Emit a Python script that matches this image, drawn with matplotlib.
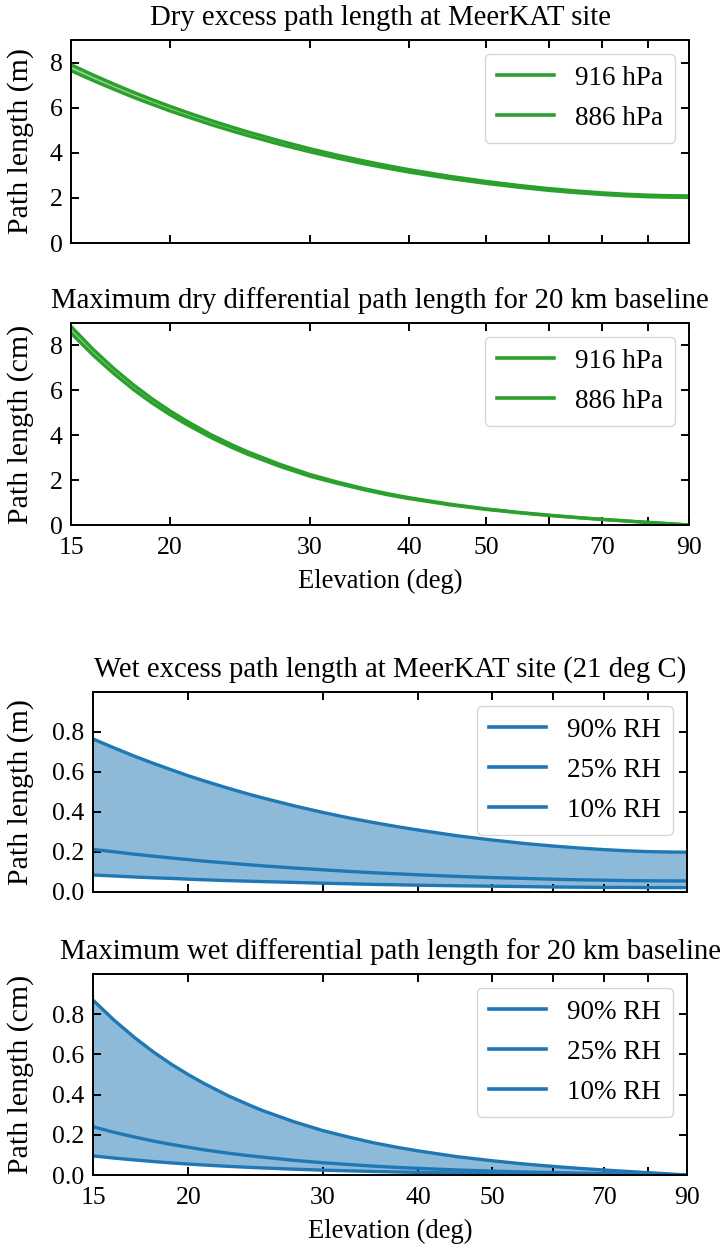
import numpy as np
import matplotlib
matplotlib.use("Agg")
import matplotlib.pyplot as plt

# %% Data

elev = [15, 16, 17, 18, 19, 20, 21, 22.5, 24, 25, 27.5, 30, 32.5, 35, 37.5,
        40, 45, 50, 55, 60, 65, 70, 75, 80, 85, 90]

dry_916 = [7.905, 7.446, 7.041, 6.676, 6.349, 6.056, 5.791, 5.434, 5.123, 4.935, 4.526, 4.18, 3.890,
           3.644, 3.433, 3.251, 2.956, 2.728, 2.551, 2.413, 2.306, 2.224, 2.164, 2.122, 2.098, 2.09]
dry_886 = [7.64, 7.20, 6.81, 6.45, 6.14, 5.85, 5.60, 5.25, 4.95, 4.77, 4.37, 4.04, 3.76,
           3.52, 3.32, 3.14, 2.86, 2.64, 2.47, 2.33, 2.23, 2.15, 2.09, 2.05, 2.03, 2.02]

ddry_916 = [8.85, 7.82, 6.96, 6.23, 5.61, 5.08, 4.62, 4.03, 3.55, 3.27, 2.70, 2.25, 1.91,
            1.63, 1.40, 1.216, 0.928, 0.718, 0.561, 0.438, 0.338, 0.254, 0.182, 0.117, 0.058, 0.0]
ddry_886 = [8.55, 7.56, 6.73, 6.02, 5.42, 4.91, 4.47, 3.90, 3.43, 3.16, 2.61, 2.17, 1.85,
            1.58, 1.35, 1.175, 0.897, 0.694, 0.542, 0.423, 0.327, 0.245, 0.176, 0.113, 0.056, 0.0]

wet_90 = [0.765, 0.720, 0.679, 0.643, 0.611, 0.581, 0.555, 0.520, 0.489, 0.471, 0.431, 0.398, 0.370,
          0.347, 0.327, 0.310, 0.281, 0.260, 0.243, 0.230, 0.220, 0.212, 0.206, 0.202, 0.200, 0.199]
wet_25 = [0.213, 0.201, 0.189, 0.179, 0.170, 0.162, 0.154, 0.145, 0.136, 0.131, 0.120, 0.111, 0.103,
          0.096, 0.091, 0.086, 0.078, 0.072, 0.068, 0.064, 0.061, 0.059, 0.057, 0.056, 0.0555, 0.0553]
wet_10 = [0.085, 0.080, 0.075, 0.071, 0.068, 0.064, 0.061, 0.057, 0.054, 0.052, 0.048, 0.044, 0.041,
          0.038, 0.036, 0.034, 0.031, 0.029, 0.027, 0.025, 0.024, 0.023, 0.023, 0.022, 0.022, 0.022]

dwet_90 = [0.870, 0.769, 0.684, 0.612, 0.551, 0.499, 0.454, 0.396, 0.349, 0.321, 0.265, 0.221, 0.188,
           0.160, 0.138, 0.120, 0.091, 0.071, 0.055, 0.043, 0.033, 0.025, 0.018, 0.0115, 0.0057, 0.0]
dwet_25 = [0.240, 0.212, 0.189, 0.169, 0.152, 0.138, 0.125, 0.109, 0.096, 0.089, 0.073, 0.061, 0.052,
           0.044, 0.038, 0.033, 0.025, 0.0195, 0.0152, 0.0119, 0.0092, 0.0069, 0.0049, 0.0032, 0.0016, 0.0]
dwet_10 = [0.095, 0.084, 0.075, 0.067, 0.060, 0.0545, 0.0496, 0.0432, 0.0381, 0.0351, 0.029, 0.0241, 0.0205,
           0.0175, 0.015, 0.013, 0.010, 0.0077, 0.006, 0.0047, 0.0036, 0.0027, 0.002, 0.0013, 0.0006, 0.0]

xticks = [15, 20, 30, 40, 50, 60, 70, 80, 90]
xticklabels = ['15', '20', '30', '40', '50', '', '70', '', '90']

# %% Style

plt.rcParams['font.family'] = ['Liberation Serif', 'DejaVu Serif']
plt.rcParams['font.size'] = 18.5
plt.rcParams['axes.linewidth'] = 1.4

W, H = 728, 1249
fig = plt.figure(figsize=(W / 100, H / 100), dpi=100)

def add_ax(x0, y0, x1, y1):
    # pixel box -> figure fraction
    return fig.add_axes([x0 / W, 1 - y1 / H, (x1 - x0) / W, (y1 - y0) / H])

def style(ax, ylim, yticks, show_x, left_px, width_px):
    ax.set_xscale('log')
    ax.set_xlim(15, 90)
    ax.set_xticks(xticks)
    ax.minorticks_off()
    if show_x:
        ax.set_xticklabels(xticklabels)
        ax.set_xlabel('Elevation (deg)', labelpad=7, fontsize=19.2)
    else:
        ax.set_xticklabels([])
    ax.set_ylim(*ylim)
    ax.set_yticks(yticks)
    ax.tick_params(direction='in', top=True, right=True, length=6, width=1.4)
    ax.tick_params(axis='x', pad=9)
    ax.tick_params(axis='y', pad=6)
    ax.yaxis.set_label_coords((34 - left_px) / width_px, 0.5)
    leg = ax.legend(loc='upper right', fancybox=True, handlelength=2.1, borderpad=0.45,
                    fontsize=19.5, labelspacing=0.55)
    for h in leg.get_lines():
        h.set_linewidth(2.6)

ax1 = add_ax(71, 40, 689, 243)
ax2 = add_ax(71, 323, 689, 525)
ax3 = add_ax(93, 692, 687, 892)
ax4 = add_ax(93, 974, 687, 1175)

green = 'C2'
blue = 'C0'

for ax, a, b, title, ylab in [
        (ax1, dry_916, dry_886, 'Dry excess path length at MeerKAT site', 'Path length (m)'),
        (ax2, ddry_916, ddry_886, 'Maximum dry differential path length for 20 km baseline', 'Path length (cm)')]:
    ax.plot(elev, a, color=green, lw=2.4, label='916 hPa')
    ax.plot(elev, b, color=green, lw=2.4, label='886 hPa')
    ax.fill_between(elev, b, a, color=green, alpha=0.5, lw=0)
    ax.set_title(title, pad=11, fontsize=20.7)
    ax.set_ylabel(ylab, fontsize=21.5)

style(ax1, (0, 9), [0, 2, 4, 6, 8], False, 71, 618)
style(ax2, (0, 9), [0, 2, 4, 6, 8], True, 71, 618)

for ax, a, b, c, title, ylab in [
        (ax3, wet_90, wet_25, wet_10, 'Wet excess path length at MeerKAT site (21 deg C)', 'Path length (m)'),
        (ax4, dwet_90, dwet_25, dwet_10, 'Maximum wet differential path length for 20 km baseline', 'Path length (cm)')]:
    ax.plot(elev, a, color=blue, lw=2.4, label='90% RH')
    ax.plot(elev, b, color=blue, lw=2.4, label='25% RH')
    ax.plot(elev, c, color=blue, lw=2.4, label='10% RH')
    ax.fill_between(elev, c, a, color=blue, alpha=0.5, lw=0)
    ax.set_title(title, pad=11, fontsize=20.7)
    ax.set_ylabel(ylab, fontsize=21.5)

style(ax3, (0, 1), [0.0, 0.2, 0.4, 0.6, 0.8], False, 93, 594)
style(ax4, (0, 1), [0.0, 0.2, 0.4, 0.6, 0.8], True, 93, 594)

fig.savefig('out.png', dpi=100)
